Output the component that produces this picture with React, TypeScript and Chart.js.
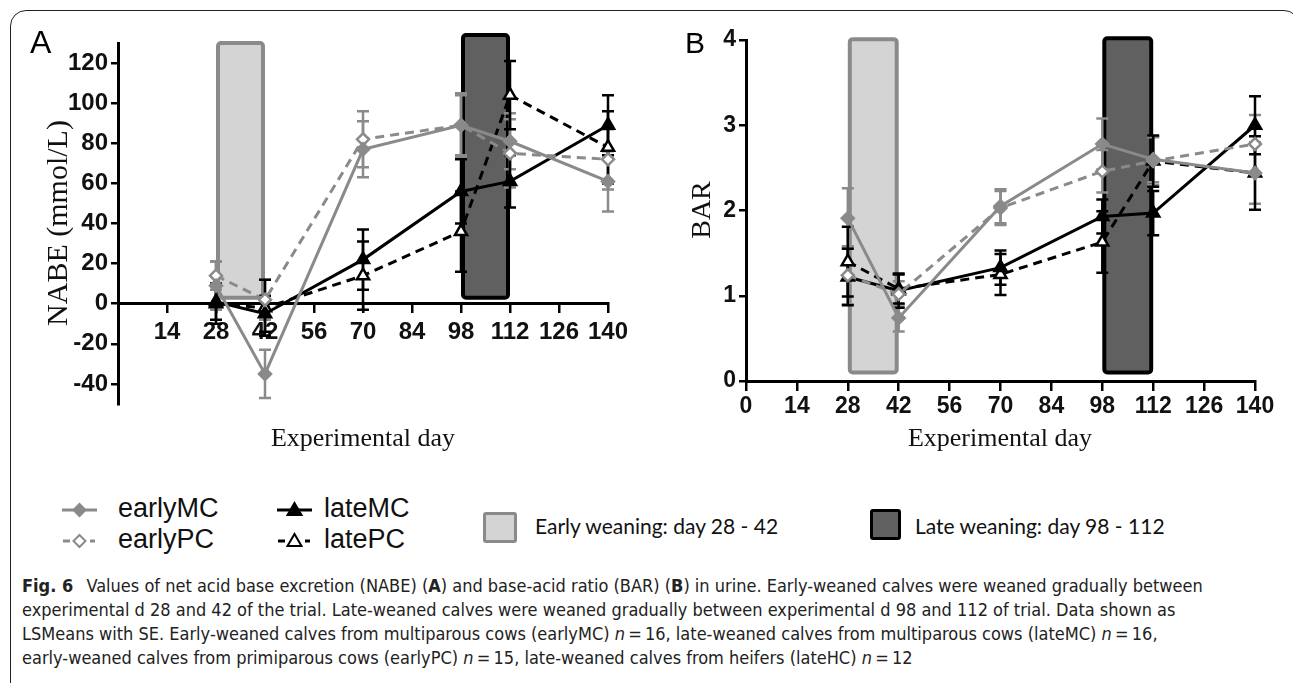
import React, { useEffect, useRef } from "react";
import { Chart, registerables } from "chart.js";

Chart.register(...registerables);

// ---------- data ----------
const days = [28, 42, 70, 98, 112, 140];
const xTickValues = [0, 14, 28, 42, 56, 70, 84, 98, 112, 126, 140];
const yTicksNABE = [-40, -20, 0, 20, 40, 60, 80, 100, 120];
const yTicksBAR = [0, 1, 2, 3, 4];
const seriesNames = ["earlyMC", "earlyPC", "lateMC", "latePC"];

// Panel A: NABE (mmol/L)
const nabeEarlyMC = [9, -35, 77, 89, 81, 61];
const nabeEarlyMCse = [12, 12, 14, 16, 14, 15];
const nabeEarlyPC = [14, 2, 82, 89, 75, 72];
const nabeEarlyPCse = [7, 10, 14, 15, 17, 15];
const nabeLateMC = [1, -5, 22, 56, 61, 89];
const nabeLateMCse = [9, 9, 15, 16, 13, 15];
const nabeLatePC = [0, -2, 14, 36, 104, 78];
const nabeLatePCse = [10, 14, 17, 20, 17, 18];

// Panel B: BAR
const barEarlyMC = [1.91, 0.74, 2.05, 2.78, 2.6, 2.44];
const barEarlyMCse = [0.35, 0.16, 0.2, 0.3, 0.27, 0.36];
const barEarlyPC = [1.24, 1.02, 2.03, 2.46, 2.58, 2.78];
const barEarlyPCse = [0.34, 0.15, 0.2, 0.25, 0.28, 0.34];
const barLateMC = [1.22, 1.06, 1.33, 1.93, 1.97, 3.0];
const barLateMCse = [0.33, 0.2, 0.2, 0.2, 0.26, 0.34];
const barLatePC = [1.4, 1.08, 1.25, 1.63, 2.58, 2.44];
const barLatePCse = [0.41, 0.17, 0.24, 0.36, 0.3, 0.43];

// weaning windows: [start day, end day], value ranges per panel
const earlyWindow = [28, 42];
const lateWindow = [98, 112];
const nabeEarlyRange = [3, 130];
const nabeLateRange = [3, 134];
const barEarlyRange = [0.1, 4.01];
const barLateRange = [0.1, 4.02];

// ---------- styles ----------
const GRAY = "#8a8a8a";
const BLACK = "#000000";
const LIGHT_FILL = "#d4d4d4";
const DARK_FILL = "#606060";
const TICK_FONT = "'Liberation Sans', Arial, sans-serif";
const SERIF = "'Liberation Serif', 'Times New Roman', serif";

type Win = { start: number; end: number; low: number; high: number; fill: string; stroke: string };

function makeOverlay(windows: Win[], errors: number[][]) {
  return {
    id: "overlay",
    beforeDatasetsDraw(chart: any) {
      const { ctx } = chart;
      const x = chart.scales.x;
      const y = chart.scales.y;
      windows.forEach((w) => {
        const l = x.getPixelForValue(w.start);
        const r = x.getPixelForValue(w.end);
        const t = y.getPixelForValue(w.high);
        const b = y.getPixelForValue(w.low);
        ctx.save();
        ctx.beginPath();
        if (ctx.roundRect) ctx.roundRect(l + 2, t, r - l - 4, b - t, 3);
        else ctx.rect(l + 2, t, r - l - 4, b - t);
        ctx.fillStyle = w.fill;
        ctx.fill();
        ctx.lineWidth = 4;
        ctx.strokeStyle = w.stroke;
        ctx.stroke();
        ctx.restore();
      });
      chart.data.datasets.forEach((ds: any, i: number) => {
        const se = errors[i];
        ctx.save();
        ctx.strokeStyle = ds.borderColor;
        ctx.lineWidth = 2.5;
        ds.data.forEach((p: any, j: number) => {
          const px = x.getPixelForValue(p.x);
          const top = y.getPixelForValue(p.y + se[j]);
          const bot = y.getPixelForValue(p.y - se[j]);
          ctx.beginPath();
          ctx.moveTo(px, top);
          ctx.lineTo(px, bot);
          ctx.moveTo(px - 6, top);
          ctx.lineTo(px + 6, top);
          ctx.moveTo(px - 6, bot);
          ctx.lineTo(px + 6, bot);
          ctx.stroke();
        });
        ctx.restore();
      });
    },
  };
}

function buildDatasets(values: number[][]) {
  const styles = [
    { color: GRAY, dash: [], point: "rectRot", fill: GRAY, r: 6 },
    { color: GRAY, dash: [9, 6], point: "rectRot", fill: "#ffffff", r: 6 },
    { color: BLACK, dash: [], point: "triangle", fill: BLACK, r: 7 },
    { color: BLACK, dash: [9, 6], point: "triangle", fill: "#ffffff", r: 7 },
  ];
  return values.map((vals, i) => ({
    label: seriesNames[i],
    data: days.map((d, j) => ({ x: d, y: vals[j] })),
    borderColor: styles[i].color,
    backgroundColor: styles[i].color,
    borderWidth: 3,
    borderDash: styles[i].dash,
    pointStyle: styles[i].point,
    pointRadius: styles[i].r,
    pointBorderWidth: 2.5,
    pointBorderColor: styles[i].color,
    pointBackgroundColor: styles[i].fill,
    tension: 0,
    clip: false as any,
  }));
}

function makeConfig(opts: {
  values: number[][];
  errors: number[][];
  yMin: number;
  yMax: number;
  yTicks: number[];
  windows: Win[];
  padding: { left: number; right: number; top: number; bottom: number };
  yWidth: number;
  hideZeroX: boolean;
  fontSize: number;
  xPad: number;
}) {
  return {
    type: "line",
    data: { datasets: buildDatasets(opts.values) },
    options: {
      animation: false,
      responsive: false,
      devicePixelRatio: 1,
      layout: { padding: opts.padding },
      plugins: { legend: { display: false }, tooltip: { enabled: false }, title: { display: false } },
      scales: {
        x: {
          type: "linear",
          position: { y: 0 },
          min: 0,
          max: 140,
          afterBuildTicks: (s: any) => {
            s.ticks = xTickValues.map((v) => ({ value: v }));
          },
          afterFit: (s: any) => {
            s.paddingLeft = 0;
            s.paddingRight = 0;
            s.paddingTop = 0;
            s.paddingBottom = 0;
          },
          grid: { drawOnChartArea: false, drawTicks: true, tickLength: 8, color: BLACK, lineWidth: 2.5 },
          border: { display: true, color: BLACK, width: 3 },
          ticks: {
            autoSkip: false,
            maxRotation: 0,
            padding: opts.xPad,
            color: "#111",
            font: { family: TICK_FONT, weight: "bold", size: opts.fontSize },
            callback: (v: any) => (opts.hideZeroX && v === 0 ? "" : String(v)),
          },
        },
        y: {
          type: "linear",
          position: "left",
          min: opts.yMin,
          max: opts.yMax,
          afterBuildTicks: (s: any) => {
            s.ticks = opts.yTicks.map((v) => ({ value: v }));
          },
          afterFit: (s: any) => {
            s.width = opts.yWidth;
            s.paddingLeft = 0;
            s.paddingRight = 0;
            s.paddingTop = 0;
            s.paddingBottom = 0;
          },
          grid: { drawOnChartArea: false, drawTicks: true, tickLength: 7, color: BLACK, lineWidth: 2.5 },
          border: { display: true, color: BLACK, width: 3 },
          ticks: {
            padding: 3,
            color: "#111",
            font: { family: TICK_FONT, weight: "bold", size: opts.fontSize },
            callback: (v: any) => String(v),
          },
        },
      },
    },
    plugins: [makeOverlay(opts.windows, opts.errors)],
  };
}

function ChartCanvas({ left, top, width, height, config }: any) {
  const ref = useRef<HTMLCanvasElement | null>(null);
  useEffect(() => {
    if (!ref.current) return;
    const chart = new Chart(ref.current, config);
    return () => chart.destroy();
  }, []);
  return (
    <canvas
      ref={ref}
      width={width}
      height={height}
      style={{ position: "absolute", left, top, width, height }}
    />
  );
}

const configA = makeConfig({
  values: [nabeEarlyMC, nabeEarlyPC, nabeLateMC, nabeLatePC],
  errors: [nabeEarlyMCse, nabeEarlyPCse, nabeLateMCse, nabeLatePCse],
  yMin: -50,
  yMax: 130,
  yTicks: yTicksNABE,
  windows: [
    { start: earlyWindow[0], end: earlyWindow[1], low: nabeEarlyRange[0], high: nabeEarlyRange[1], fill: LIGHT_FILL, stroke: GRAY },
    { start: lateWindow[0], end: lateWindow[1], low: nabeLateRange[0], high: nabeLateRange[1], fill: DARK_FILL, stroke: BLACK },
  ],
  padding: { left: 58, right: 32, top: 43, bottom: 66 },
  yWidth: 60,
  hideZeroX: true,
  fontSize: 24,
  xPad: 6,
});

const configB = makeConfig({
  values: [barEarlyMC, barEarlyPC, barLateMC, barLatePC],
  errors: [barEarlyMCse, barEarlyPCse, barLateMCse, barLatePCse],
  yMin: 0,
  yMax: 4,
  yTicks: yTicksBAR,
  windows: [
    { start: earlyWindow[0], end: earlyWindow[1], low: barEarlyRange[0], high: barEarlyRange[1], fill: LIGHT_FILL, stroke: GRAY },
    { start: lateWindow[0], end: lateWindow[1], low: barLateRange[0], high: barLateRange[1], fill: DARK_FILL, stroke: BLACK },
  ],
  padding: { left: 46, right: 38, top: 40, bottom: 89 },
  yWidth: 60,
  hideZeroX: false,
  fontSize: 23,
  xPad: 4,
});

function LegendIcon({ color, dashed, shape, filled }: any) {
  const cx = 17.5;
  const cy = 10;
  const marker =
    shape === "diamond" ? (
      <polygon
        points={`${cx},${cy - 6} ${cx + 6},${cy} ${cx},${cy + 6} ${cx - 6},${cy}`}
        fill={filled ? color : "#fff"}
        stroke={color}
        strokeWidth={2}
      />
    ) : (
      <polygon
        points={`${cx},${cy - 7} ${cx + 7},${cy + 5} ${cx - 7},${cy + 5}`}
        fill={filled ? color : "#fff"}
        stroke={color}
        strokeWidth={2}
      />
    );
  return (
    <svg width={36} height={20} style={{ position: "absolute", left: 0, top: 0 }}>
      {dashed ? (
        <g stroke={color} strokeWidth={3}>
          <line x1={1} y1={cy} x2={8} y2={cy} />
          <line x1={28} y1={cy} x2={33} y2={cy} />
        </g>
      ) : (
        <line x1={0} y1={cy} x2={35} y2={cy} stroke={color} strokeWidth={3} />
      )}
      {marker}
    </svg>
  );
}

const legendText: React.CSSProperties = {
  position: "absolute",
  fontFamily: TICK_FONT,
  fontSize: 27,
  lineHeight: "27px",
  color: "#111",
  whiteSpace: "nowrap",
};

const captionLines = [
  [
    { t: "Fig. 6", b: true },
    { t: "\u2002 Values of net acid base excretion (NABE) (" },
    { t: "A", b: true },
    { t: ") and base-acid ratio (BAR) (" },
    { t: "B", b: true },
    { t: ") in urine. Early-weaned calves were weaned gradually between" },
  ],
  [{ t: "experimental d 28 and 42 of the trial. Late-weaned calves were weaned gradually between experimental d 98 and 112 of trial. Data shown as" }],
  [
    { t: "LSMeans with SE. Early-weaned calves from multiparous cows (earlyMC) " },
    { t: "n", i: true },
    { t: "\u2009=\u200916, late-weaned calves from multiparous cows (lateMC) " },
    { t: "n", i: true },
    { t: "\u2009=\u200916," },
  ],
  [
    { t: "early-weaned calves from primiparous cows (earlyPC) " },
    { t: "n", i: true },
    { t: "\u2009=\u200915, late-weaned calves from heifers (lateHC) " },
    { t: "n", i: true },
    { t: "\u2009=\u200912" },
  ],
];

export default function App() {
  return (
    <div
      style={{
        position: "absolute",
        left: 0,
        top: 0,
        width: 1293,
        height: 683,
        overflow: "hidden",
        background: "#fff",
      }}
    >
      <div
        style={{
          position: "absolute",
          left: 10,
          top: 10,
          width: 1290,
          height: 720,
          border: "1.5px solid #222",
          borderRadius: 16,
          boxSizing: "border-box",
        }}
      />
      <ChartCanvas left={0} top={0} width={640} height={470} config={configA} />
      <ChartCanvas left={640} top={0} width={653} height={470} config={configB} />

      {/* panel letters */}
      <div style={{ position: "absolute", left: 30, top: 26, fontFamily: TICK_FONT, fontSize: 32, lineHeight: "32px" }}>A</div>
      <div style={{ position: "absolute", left: 685, top: 28, fontFamily: TICK_FONT, fontSize: 30, lineHeight: "30px" }}>B</div>

      {/* axis titles */}
      <div
        style={{
          position: "absolute",
          left: 57,
          top: 223,
          transform: "translate(-50%, -50%) rotate(-90deg)",
          fontFamily: SERIF,
          fontSize: 30,
          lineHeight: "30px",
          whiteSpace: "nowrap",
          color: "#111",
        }}
      >
        NABE (mmol/L)
      </div>
      <div
        style={{
          position: "absolute",
          left: 363,
          top: 425,
          transform: "translateX(-50%)",
          fontFamily: SERIF,
          fontSize: 26,
          lineHeight: "26px",
          whiteSpace: "nowrap",
          color: "#111",
        }}
      >
        Experimental day
      </div>
      <div
        style={{
          position: "absolute",
          left: 701,
          top: 210,
          transform: "translate(-50%, -50%) rotate(-90deg)",
          fontFamily: SERIF,
          fontSize: 28,
          lineHeight: "28px",
          whiteSpace: "nowrap",
          color: "#111",
        }}
      >
        BAR
      </div>
      <div
        style={{
          position: "absolute",
          left: 1000,
          top: 425,
          transform: "translateX(-50%)",
          fontFamily: SERIF,
          fontSize: 26,
          lineHeight: "26px",
          whiteSpace: "nowrap",
          color: "#111",
        }}
      >
        Experimental day
      </div>

      {/* legend */}
      <div style={{ position: "absolute", left: 62, top: 500 }}>
        <LegendIcon color={GRAY} shape="diamond" filled />
      </div>
      <div style={{ ...legendText, left: 118, top: 495 }}>earlyMC</div>
      <div style={{ position: "absolute", left: 62, top: 531 }}>
        <LegendIcon color={GRAY} shape="diamond" dashed />
      </div>
      <div style={{ ...legendText, left: 118, top: 526 }}>earlyPC</div>
      <div style={{ position: "absolute", left: 277, top: 500 }}>
        <LegendIcon color={BLACK} shape="triangle" filled />
      </div>
      <div style={{ ...legendText, left: 324, top: 495 }}>lateMC</div>
      <div style={{ position: "absolute", left: 277, top: 531 }}>
        <LegendIcon color={BLACK} shape="triangle" dashed />
      </div>
      <div style={{ ...legendText, left: 324, top: 526 }}>latePC</div>

      <div
        style={{
          position: "absolute",
          left: 483,
          top: 512,
          width: 34,
          height: 31,
          background: LIGHT_FILL,
          border: `3px solid ${GRAY}`,
          borderRadius: 3,
          boxSizing: "border-box",
        }}
      />
      <div style={{ position: "absolute", left: 535, top: 514, fontFamily: "Lato, 'Open Sans', sans-serif", fontSize: 21, lineHeight: "24px", color: "#111", whiteSpace: "nowrap" }}>
        Early weaning: day 28 - 42
      </div>
      <div
        style={{
          position: "absolute",
          left: 870,
          top: 509,
          width: 31,
          height: 31,
          background: DARK_FILL,
          border: `3px solid ${BLACK}`,
          borderRadius: 3,
          boxSizing: "border-box",
        }}
      />
      <div style={{ position: "absolute", left: 915, top: 514, fontFamily: "Lato, 'Open Sans', sans-serif", fontSize: 21, lineHeight: "24px", color: "#111", whiteSpace: "nowrap" }}>
        Late weaning: day 98 - 112
      </div>

      {/* caption */}
      {captionLines.map((line, i) => (
        <div
          key={i}
          style={{
            position: "absolute",
            left: 22,
            top: 574 + i * 24,
            fontFamily: "'Liberation Sans Narrow', 'DejaVu Sans Condensed', sans-serif",
            fontSize: 18,
            lineHeight: "24px",
            color: "#222",
            whiteSpace: "nowrap",
          }}
        >
          {line.map((seg: any, k: number) => (
            <span key={k} style={{ fontWeight: seg.b ? "bold" : "normal", fontStyle: seg.i ? "italic" : "normal" }}>
              {seg.t}
            </span>
          ))}
        </div>
      ))}
    </div>
  );
}
